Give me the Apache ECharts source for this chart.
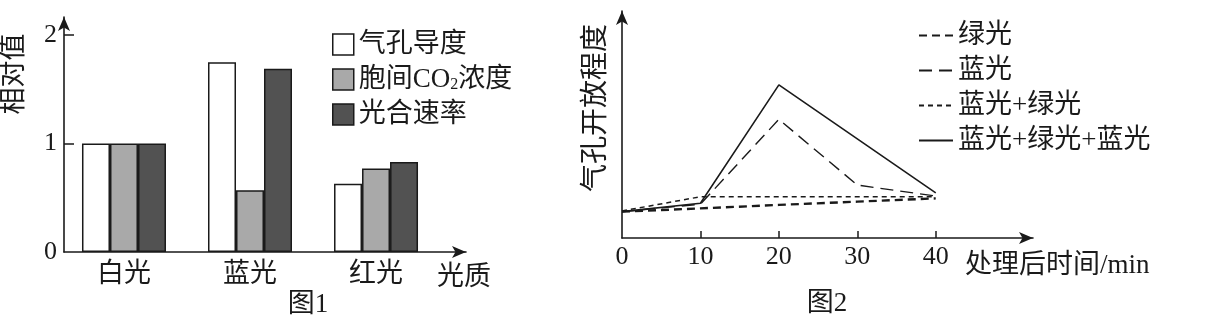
<!DOCTYPE html>
<html>
<head>
<meta charset="utf-8">
<script src="https://cdn.jsdelivr.net/npm/echarts@6/dist/echarts.min.js"></script>
<style>
html,body{margin:0;padding:0;background:#fff;}
#c{width:1230px;height:320px;}
</style>
</head>
<body>
<div id="c"></div>
<script>
// ---- Figure 1 data ----
const lightCats = ['白光', '蓝光', '红光'];
const barNames = ['气孔导度', '胞间CO2浓度', '光合速率'];
const conductance = [1.00, 1.75, 0.63];
const co2Conc = [1.00, 0.57, 0.77];
const photoRate = [1.00, 1.69, 0.83];
const fig1YTicks = [0, 1, 2];

// ---- Figure 2 data ----
const lineNames = ['绿光', '蓝光', '蓝光+绿光', '蓝光+绿光+蓝光'];
const timePts = [0, 10, 20, 30, 40];
const greenVals = [1.13, 1.27, 1.42, 1.56, 1.70];
const blueVals = [1.13, 1.45, 5.09, 2.27, 1.80];
const blueGreenVals = [1.16, 1.77, 1.77, 1.77, 1.77];
const bgbTimes = [0, 10, 20, 40];
const bgbVals = [1.13, 1.49, 6.57, 1.94];
const fig2XTicks = [0, 10, 20, 30, 40];

const INK = '#1a1a1a';
const FONT = "'Liberation Serif','Noto Sans CJK SC',serif";
const CJK = 27;

function pairs(xs, ys) { return xs.map((x, i) => [x, ys[i]]); }

const chart = echarts.init(document.getElementById('c'));

const barColors = ['#ffffff', '#a9a9a9', '#525252'];
const barData = [conductance, co2Conc, photoRate];

const arrowAxis = {
  show: true,
  onZero: false,
  symbol: ['none', 'arrow'],
  symbolSize: [9, 14],
  lineStyle: { color: INK, width: 1.6 }
};

const option = {
  backgroundColor: '#ffffff',
  animation: false,
  color: [INK],
  textStyle: { fontFamily: FONT, color: INK },
  grid: [
    { left: 64, top: 17, width: 402, height: 235, outerBoundsMode: 'none', containLabel: false },
    { left: 622, top: 11, width: 411, height: 227, outerBoundsMode: 'none', containLabel: false }
  ],
  xAxis: [
    {
      gridIndex: 0, type: 'value', min: -0.476, max: 2.714,
      axisLine: arrowAxis,
      axisTick: { show: false },
      splitLine: { show: false },
      axisLabel: {
        customValues: [0, 1, 2],
        formatter: v => lightCats[Math.round(v)] || '',
        fontSize: CJK, color: INK, margin: 9, fontFamily: FONT
      },
      name: '光质', nameLocation: 'end', nameGap: -29, nameMoveOverlap: false,
      nameTextStyle: { fontSize: CJK, color: INK, align: 'left', verticalAlign: 'top', padding: [12, 0, 0, 0], fontFamily: FONT }
    },
    {
      gridIndex: 1, type: 'value', min: 0, max: 52.4,
      axisLine: arrowAxis,
      axisTick: { show: true, inside: true, length: 7, customValues: [10, 20, 30, 40], lineStyle: { color: INK, width: 1.5 } },
      splitLine: { show: false },
      axisLabel: { customValues: fig2XTicks, fontSize: 26, color: INK, margin: 6, fontFamily: FONT },
      name: '处理后时间/min', nameLocation: 'end', nameGap: -68, nameMoveOverlap: false,
      nameTextStyle: { fontSize: CJK, color: INK, align: 'left', verticalAlign: 'top', padding: [14, 0, 0, 0], fontFamily: FONT }
    }
  ],
  yAxis: [
    {
      gridIndex: 0, type: 'value', min: 0, max: 2.166,
      axisLine: arrowAxis,
      axisTick: { show: true, inside: true, length: 10, customValues: [1, 2], lineStyle: { color: INK, width: 1.5 } },
      splitLine: { show: false },
      axisLabel: { customValues: fig1YTicks, fontSize: 26, color: INK, margin: 7, fontFamily: FONT }
    },
    {
      gridIndex: 1, type: 'value', min: 0, max: 9.74,
      axisLine: arrowAxis,
      axisTick: { show: false },
      splitLine: { show: false },
      axisLabel: { show: false }
    }
  ],
  legend: [
    {
      data: barNames,
      orient: 'vertical', left: 327, top: 26,
      itemWidth: 21, itemHeight: 21, itemGap: 8,
      icon: 'rect',
      itemStyle: { borderColor: INK, borderWidth: 1.5 },
      formatter: n => n === '胞间CO2浓度' ? '{t|胞间CO}{s|2}{t|浓度}' : n,
      textStyle: {
        fontSize: CJK, color: INK, fontFamily: FONT, lineHeight: 27,
        rich: {
          t: { fontSize: CJK, color: INK, fontFamily: FONT, lineHeight: 27 },
          s: { fontSize: 16, color: INK, fontFamily: FONT, verticalAlign: 'bottom', lineHeight: 10 }
        }
      }
    },
    {
      data: lineNames,
      orient: 'vertical', left: 913, top: 17,
      itemWidth: 34, itemHeight: 14, itemGap: 8,
      itemStyle: { opacity: 0 },
      textStyle: { fontSize: CJK, color: INK, fontFamily: FONT, lineHeight: 27 }
    }
  ],
  graphic: [
    { type: 'text', x: 15, y: 74, rotation: Math.PI / 2,
      style: { text: '相对值', font: CJK + 'px ' + FONT, fill: INK, align: 'center', verticalAlign: 'middle' } },
    { type: 'text', x: 597, y: 108, rotation: Math.PI / 2,
      style: { text: '气孔开放程度', font: '28px ' + FONT, fill: INK, align: 'center', verticalAlign: 'middle' } },
    { type: 'text', x: 308, y: 305,
      style: { text: '图1', font: CJK + 'px ' + FONT, fill: INK, align: 'center', verticalAlign: 'middle' } },
    { type: 'text', x: 827, y: 304,
      style: { text: '图2', font: CJK + 'px ' + FONT, fill: INK, align: 'center', verticalAlign: 'middle' } }
  ],
  series: [
    ...barNames.map((name, k) => ({
      name, type: 'bar', xAxisIndex: 0, yAxisIndex: 0,
      barWidth: 28, barGap: '0%',
      itemStyle: { color: barColors[k], borderColor: INK, borderWidth: 1.5 },
      data: barData[k].map((v, i) => [i, v])
    })),
    { name: lineNames[0], type: 'line', xAxisIndex: 1, yAxisIndex: 1, symbol: 'none', itemStyle: { color: INK },
      lineStyle: { color: INK, width: 2.4, type: [8, 5] }, data: pairs(timePts, greenVals) },
    { name: lineNames[1], type: 'line', xAxisIndex: 1, yAxisIndex: 1, symbol: 'none', itemStyle: { color: INK },
      lineStyle: { color: INK, width: 1.4, type: [13, 7] }, data: pairs(timePts, blueVals) },
    { name: lineNames[2], type: 'line', xAxisIndex: 1, yAxisIndex: 1, symbol: 'none', itemStyle: { color: INK },
      lineStyle: { color: INK, width: 1.5, type: [5, 4] }, data: pairs(timePts, blueGreenVals) },
    { name: lineNames[3], type: 'line', xAxisIndex: 1, yAxisIndex: 1, symbol: 'none', itemStyle: { color: INK },
      lineStyle: { color: INK, width: 1.6 }, data: pairs(bgbTimes, bgbVals) }
  ]
};

chart.setOption(option);
</script>
</body>
</html>
